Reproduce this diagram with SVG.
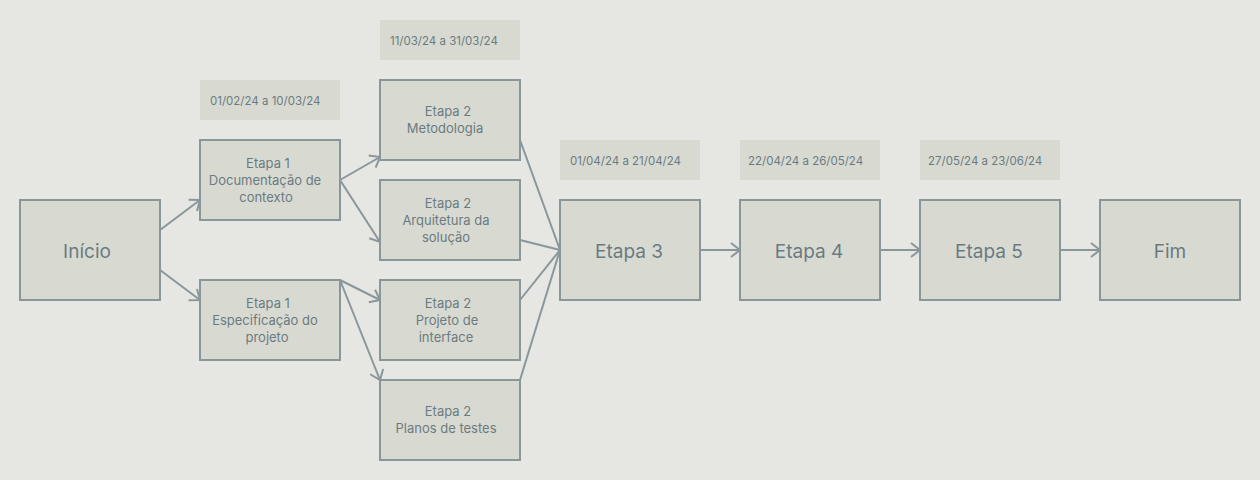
<svg xmlns="http://www.w3.org/2000/svg" width="1260" height="480" viewBox="0 0 1260 480">
<style>
.n{fill:#d8dad1;stroke:#8a979a;stroke-width:2}
.d{fill:#d8dad1}
.t{font-family:Inter,"Liberation Sans",sans-serif;fill:#6b7a82;text-anchor:middle}
.s{font-size:13px}
.b{font-size:19px}
.dt{font-family:Inter,"Liberation Sans",sans-serif;fill:#6b7a82;font-size:11.5px}
.c{stroke:#8a979a;stroke-width:2;fill:none}
</style>
<defs>
<marker id="a" markerUnits="userSpaceOnUse" markerWidth="14" markerHeight="18" refX="11" refY="8" orient="auto" viewBox="0 0 14 16">
<path d="M2,1 L11,8 L2,15" fill="none" stroke="#8a979a" stroke-width="2"/>
</marker>
</defs>
<rect width="1260" height="480" fill="#e6e6e3"/>
<g id="connectors">
<line class="c" x1="160" y1="230" x2="200" y2="200" marker-end="url(#a)"/>
<line class="c" x1="160" y1="270" x2="200" y2="300" marker-end="url(#a)"/>
<line class="c" x1="340" y1="180" x2="380" y2="157" marker-end="url(#a)"/>
<line class="c" x1="340" y1="180" x2="380" y2="242" marker-end="url(#a)"/>
<line class="c" x1="340" y1="280" x2="380" y2="300" marker-end="url(#a)"/>
<line class="c" x1="340" y1="280" x2="380" y2="380" marker-end="url(#a)"/>
<line class="c" x1="520" y1="140" x2="560" y2="250"/>
<line class="c" x1="520" y1="240" x2="560" y2="250"/>
<line class="c" x1="520" y1="300" x2="560" y2="250"/>
<line class="c" x1="520" y1="380" x2="560" y2="250"/>
<line class="c" x1="700" y1="250" x2="740" y2="250" marker-end="url(#a)"/>
<line class="c" x1="880" y1="250" x2="920" y2="250" marker-end="url(#a)"/>
<line class="c" x1="1060" y1="250" x2="1100" y2="250" marker-end="url(#a)"/>
</g>
<g id="inicio"><rect class="n" x="20" y="200" width="140" height="100"/><text class="t b" x="87" y="258">Início</text></g>
<g id="d1"><rect class="d" x="200" y="80" width="140" height="40"/><text class="dt" x="210" y="105">01/02/24 a 10/03/24</text></g>
<g id="e1doc"><rect class="n" x="200" y="140" width="140" height="80"/><text class="t s" x="268" y="168">Etapa 1</text><text class="t s" x="265" y="185">Documentação de</text><text class="t s" x="266" y="202">contexto</text></g>
<g id="e1esp"><rect class="n" x="200" y="280" width="140" height="80"/><text class="t s" x="268" y="308">Etapa 1</text><text class="t s" x="265" y="325">Especificação do</text><text class="t s" x="267" y="342">projeto</text></g>
<g id="d2"><rect class="d" x="380" y="20" width="140" height="40"/><text class="dt" x="390" y="45">11/03/24 a 31/03/24</text></g>
<g id="e2met"><rect class="n" x="380" y="80" width="140" height="80"/><text class="t s" x="448" y="116">Etapa 2</text><text class="t s" x="445" y="133">Metodologia</text></g>
<g id="e2arq"><rect class="n" x="380" y="180" width="140" height="80"/><text class="t s" x="448" y="208">Etapa 2</text><text class="t s" x="446" y="225">Arquitetura da</text><text class="t s" x="446" y="242">solução</text></g>
<g id="e2proj"><rect class="n" x="380" y="280" width="140" height="80"/><text class="t s" x="448" y="308">Etapa 2</text><text class="t s" x="447" y="325">Projeto de</text><text class="t s" x="446" y="342">interface</text></g>
<g id="e2pla"><rect class="n" x="380" y="380" width="140" height="80"/><text class="t s" x="448" y="416">Etapa 2</text><text class="t s" x="446" y="433">Planos de testes</text></g>
<g id="d3"><rect class="d" x="560" y="140" width="140" height="40"/><text class="dt" x="570" y="165">01/04/24 a 21/04/24</text></g>
<g id="e3"><rect class="n" x="560" y="200" width="140" height="100"/><text class="t b" x="629" y="258">Etapa 3</text></g>
<g id="d4"><rect class="d" x="740" y="140" width="140" height="40"/><text class="dt" x="748" y="165">22/04/24 a 26/05/24</text></g>
<g id="e4"><rect class="n" x="740" y="200" width="140" height="100"/><text class="t b" x="809" y="258">Etapa 4</text></g>
<g id="d5"><rect class="d" x="920" y="140" width="140" height="40"/><text class="dt" x="928" y="165">27/05/24 a 23/06/24</text></g>
<g id="e5"><rect class="n" x="920" y="200" width="140" height="100"/><text class="t b" x="989" y="258">Etapa 5</text></g>
<g id="fim"><rect class="n" x="1100" y="200" width="140" height="100"/><text class="t b" x="1170" y="258">Fim</text></g>
</svg>
